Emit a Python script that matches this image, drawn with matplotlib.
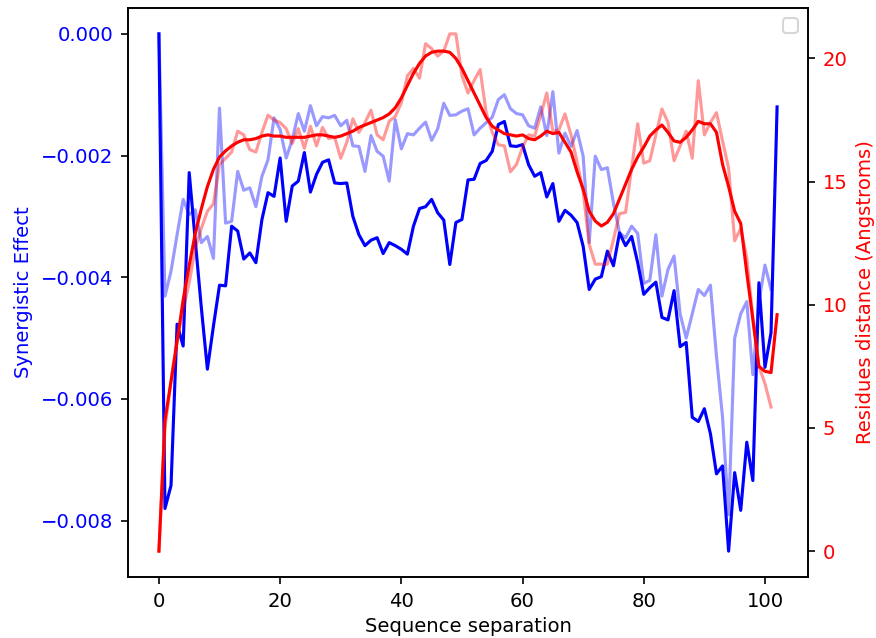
import matplotlib
matplotlib.use("Agg")
import matplotlib.pyplot as plt
import numpy as np

plt.rcParams["font.size"] = 9.4

# Synergistic effect (units of 1e-3), dark series, separation 0..102
syn_main = [0, -7.8, -7.42, -4.77, -5.13, -2.28, -3.4, -4.5, -5.51, -4.8,
            -4.13, -4.14, -3.16, -3.24, -3.7, -3.6, -3.76, -3.05, -2.61, -2.67,
            -2.04, -3.08, -2.5, -2.42, -1.95, -2.6, -2.31, -2.11, -2.07, -2.45,
            -2.46, -2.45, -3.0, -3.3, -3.48, -3.39, -3.35, -3.61, -3.43, -3.48,
            -3.54, -3.62, -3.16, -2.87, -2.84, -2.72, -2.94, -3.06, -3.79, -3.1,
            -3.05, -2.4, -2.39, -2.13, -2.08, -1.93, -1.49, -1.44, -1.84, -1.85,
            -1.82, -2.15, -2.34, -2.28, -2.68, -2.46, -3.08, -2.9, -2.98, -3.1,
            -3.49, -4.2, -4.03, -3.99, -3.57, -3.81, -3.27, -3.48, -3.33, -3.76,
            -4.28, -4.17, -4.08, -4.66, -4.7, -4.22, -5.14, -5.07, -6.3, -6.37,
            -6.16, -6.57, -7.23, -7.1, -8.5, -7.21, -7.83, -6.71, -7.34, -4.09,
            -5.48, -4.91, -1.2]

# Synergistic effect (units of 1e-3), light series, separation 0..101
syn_light = [0, -4.31, -3.9, -3.3, -2.72, -2.97, -2.89, -3.43, -3.33, -3.69,
             -1.22, -3.11, -3.08, -2.26, -2.57, -2.53, -2.84, -2.34, -2.07, -1.38,
             -1.57, -2.04, -1.74, -1.31, -1.6, -1.18, -1.51, -1.36, -1.38, -1.34,
             -1.51, -1.42, -1.84, -1.85, -2.26, -1.67, -1.93, -2.01, -2.42, -1.41,
             -1.89, -1.64, -1.66, -1.55, -1.45, -1.75, -1.56, -1.14, -1.34, -1.33,
             -1.27, -1.23, -1.66, -1.55, -1.46, -1.37, -1.08, -1.0, -1.23, -1.31,
             -1.33, -1.51, -1.55, -1.2, -1.67, -0.95, -1.96, -1.63, -1.85, -1.59,
             -2.01, -3.43, -2.01, -2.23, -2.2, -2.78, -3.27, -3.35, -3.16, -3.28,
             -4.1, -4.05, -3.3, -4.31, -3.87, -3.65, -4.6, -5.0, -4.6, -4.2,
             -4.3, -4.13, -5.3, -6.3, -7.9, -5.0, -4.6, -4.4, -5.6, -4.4,
             -3.8, -4.2]

# Residue distance (Angstroms), smooth series, separation 0..102
dist_smooth = [0, 5.3, 6.9, 8.5, 10.2, 11.6, 12.9, 13.9, 14.8, 15.5,
               16.0, 16.25, 16.45, 16.6, 16.7, 16.7, 16.75, 16.85, 16.9, 16.85,
               16.85, 16.8, 16.8, 16.8, 16.8, 16.85, 16.9, 16.9, 16.85, 16.8,
               16.85, 16.95, 17.05, 17.2, 17.3, 17.4, 17.5, 17.6, 17.75, 18.0,
               18.4, 18.9, 19.4, 19.8, 20.1, 20.25, 20.3, 20.3, 20.25, 20.0,
               19.6, 19.1, 18.6, 18.1, 17.6, 17.25, 17.1, 16.95, 16.9, 16.85,
               16.9, 16.75, 16.7, 16.85, 17.05, 16.95, 17.0, 16.6, 16.2, 15.4,
               14.7, 13.8, 13.4, 13.2, 13.35, 13.7, 14.3, 14.9, 15.5, 16.0,
               16.4, 16.85, 17.1, 17.3, 17.0, 16.65, 16.6, 16.8, 17.1, 17.45,
               17.35, 17.35, 17.0, 15.7, 14.8, 13.8, 13.3, 11.3, 9.4, 7.5,
               7.3, 7.25, 9.6]

# Residue distance (Angstroms), raw series, separation 0..101
dist_raw = [0, 5.0, 6.9, 8.6, 9.8, 10.9, 12.3, 13.1, 13.8, 14.1,
            15.7, 15.95, 16.2, 17.05, 16.9, 16.3, 16.2, 17.0, 17.7, 17.5,
            17.4, 17.15, 16.55, 17.15, 16.35, 17.25, 16.45, 17.2, 16.75, 16.8,
            15.95, 16.6, 17.55, 17.0, 17.4, 17.9, 16.9, 16.7, 17.45, 17.65,
            18.2, 19.3, 19.6, 19.2, 20.6, 20.4, 20.1, 20.3, 21.0, 21.0,
            19.3, 18.6, 19.1, 19.55, 17.8, 17.0, 16.5, 16.45, 15.4, 15.7,
            16.4, 16.9, 16.85, 17.7, 18.6, 17.05, 17.1, 17.75, 16.9, 15.8,
            14.6, 12.45, 11.65, 11.65, 11.65, 12.65, 13.7, 13.75, 15.55, 17.35,
            15.75, 15.85, 16.9, 17.95, 17.4, 15.85, 16.45, 17.05, 15.95, 19.1,
            16.9, 17.4, 17.8, 16.65, 15.55, 12.6, 13.1, 11.9, 9.5, 7.5,
            6.8, 5.85]

x_main = np.arange(len(syn_main))
x_light = np.arange(len(syn_light))
x_smooth = np.arange(len(dist_smooth))
x_raw = np.arange(len(dist_raw))

fig = plt.figure(figsize=(876 / 150, 638 / 150), dpi=150)
ax1 = fig.add_axes([128 / 876, 1 - 577 / 638, 680 / 876, 569 / 638])

ax1.plot(x_light, np.array(syn_light) * 1e-3, color="blue", alpha=0.4, lw=1.5)
ax1.plot(x_main, np.array(syn_main) * 1e-3, color="blue", lw=1.5)
ax1.set_xlabel("Sequence separation", labelpad=3)
ax1.set_ylabel("Synergistic Effect", color="blue")
ax1.tick_params(axis="y", labelcolor="blue")

ax2 = ax1.twinx()
ax2.plot(x_raw, dist_raw, color="red", alpha=0.4, lw=1.5)
ax2.plot(x_smooth, dist_smooth, color="red", lw=1.5)
ax2.set_ylabel("Residues distance (Angstroms)", color="red")
ax2.tick_params(axis="y", labelcolor="red")
ax2.legend(handles=[], loc="upper right")

fig.savefig("out.png", dpi=150)
